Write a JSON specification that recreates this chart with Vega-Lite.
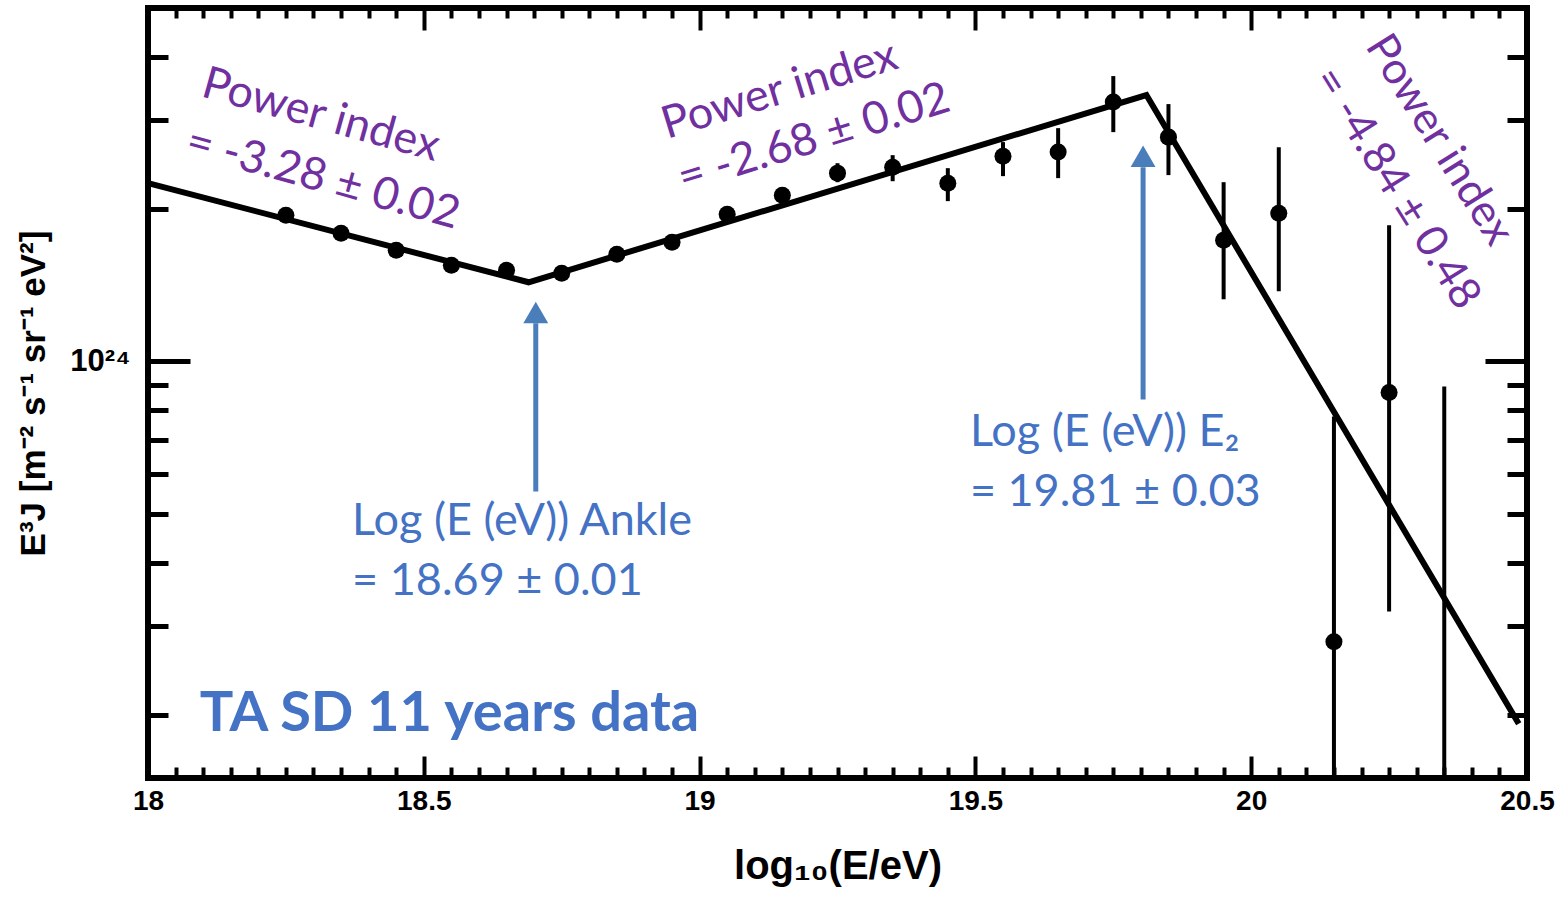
{
  "$schema": "https://vega.github.io/schema/vega-lite/v6.json",
  "width": 1379,
  "height": 770,
  "autosize": {"type": "none"},
  "padding": {"left": 148, "top": 8, "right": 35, "bottom": 124},
  "background": "white",
  "config": {
    "view": {"stroke": "black", "strokeWidth": 6},
    "axis": {"grid": false, "domain": false, "tickColor": "black", "labelColor": "black", "titleColor": "black", "zindex": 1}
  },
  "datasets": {
    "spectrum": [
      {"logE": 18.25, "flux": 1.946e24, "lo": null, "hi": null},
      {"logE": 18.35, "flux": 1.793e24, "lo": null, "hi": null},
      {"logE": 18.45, "flux": 1.659e24, "lo": null, "hi": null},
      {"logE": 18.55, "flux": 1.549e24, "lo": null, "hi": null},
      {"logE": 18.65, "flux": 1.514e24, "lo": null, "hi": null},
      {"logE": 18.75, "flux": 1.494e24, "lo": null, "hi": null},
      {"logE": 18.85, "flux": 1.629e24, "lo": null, "hi": null},
      {"logE": 18.95, "flux": 1.72e24, "lo": null, "hi": null},
      {"logE": 19.05, "flux": 1.955e24, "lo": null, "hi": null},
      {"logE": 19.15, "flux": 2.132e24, "lo": null, "hi": null},
      {"logE": 19.25, "flux": 2.357e24, "lo": 2.262e24, "hi": 2.466e24},
      {"logE": 19.35, "flux": 2.422e24, "lo": 2.272e24, "hi": 2.558e24},
      {"logE": 19.45, "flux": 2.252e24, "lo": 2.075e24, "hi": 2.411e24},
      {"logE": 19.55, "flux": 2.546e24, "lo": 2.325e24, "hi": 2.715e24},
      {"logE": 19.65, "flux": 2.594e24, "lo": 2.304e24, "hi": 2.893e24},
      {"logE": 19.75, "flux": 3.258e24, "lo": 2.841e24, "hi": 3.667e24},
      {"logE": 19.85, "flux": 2.777e24, "lo": 2.336e24, "hi": 3.228e24},
      {"logE": 19.95, "flux": 1.736e24, "lo": 1.327e24, "hi": 2.262e24},
      {"logE": 20.05, "flux": 1.963e24, "lo": 1.376e24, "hi": 2.653e24},
      {"logE": 20.15, "flux": 2.79e23, "lo": 1.0e23, "hi": 7.78e23},
      {"logE": 20.25, "flux": 8.68e23, "lo": 3.2e23, "hi": 1.859e24},
      {"logE": 20.35, "flux": null, "lo": 1.0e23, "hi": 8.92e23}
    ],
    "fit": [
      {"logE": 18.0, "flux": 2.252e24},
      {"logE": 18.69, "flux": 1.434e24},
      {"logE": 19.81, "flux": 3.363e24},
      {"logE": 20.485, "flux": 1.92e23}
    ]
  },
  "resolve": {"axis": {"x": "independent", "y": "independent"}},
  "layer": [
    {
      "data": {"name": "fit"},
      "mark": {"type": "line", "color": "black", "strokeWidth": 6, "strokeJoin": "miter"},
      "encoding": {
        "x": {
          "field": "logE", "type": "quantitative",
          "scale": {"domain": [18, 20.5], "nice": false, "zero": false},
          "axis": {
            "orient": "bottom",
            "values": [18,18.05,18.1,18.15,18.2,18.25,18.3,18.35,18.4,18.45,18.5,18.55,18.6,18.65,18.7,18.75,18.8,18.85,18.9,18.95,19,19.05,19.1,19.15,19.2,19.25,19.3,19.35,19.4,19.45,19.5,19.55,19.6,19.65,19.7,19.75,19.8,19.85,19.9,19.95,20,20.05,20.1,20.15,20.2,20.25,20.3,20.35,20.4,20.45,20.5],
            "format": "~g",
            "labelExpr": "abs(datum.value*2-round(datum.value*2))<0.001 ? datum.label : ''",
            "tickSize": {"condition": {"test": "abs(datum.value*2-round(datum.value*2))<0.001", "value": -22}, "value": -11},
            "tickWidth": 4,
            "labelFont": "Liberation Sans",
            "labelFontWeight": "bold",
            "labelFontSize": 28,
            "labelPadding": 31,
            "labelFlush": false,
            "labelOverlap": false,
            "title": "log₁₀(E/eV)",
            "titleFont": "Liberation Sans",
            "titleFontWeight": "bold",
            "titleFontSize": 40,
            "titlePadding": 20
          }
        },
        "y": {
          "field": "flux", "type": "quantitative",
          "scale": {"type": "log", "domain": [1.5e23, 5e24], "nice": false},
          "axis": {
            "orient": "left",
            "values": [2e23,3e23,4e23,5e23,6e23,7e23,8e23,9e23,1e24,2e24,3e24,4e24],
            "labelExpr": "datum.value == 1e24 ? '10²⁴' : ''",
            "tickSize": {"condition": {"test": "datum.value == 1e24", "value": -42}, "value": -20},
            "tickWidth": 5,
            "labelFont": "Liberation Sans",
            "labelFontWeight": "bold",
            "labelFontSize": 31,
            "labelPadding": 60,
            "labelOverlap": false,
            "labelFlush": false,
            "title": "E³J [m⁻² s⁻¹ sr⁻¹ eV²]",
            "titleFont": "Liberation Sans",
            "titleFontWeight": "bold",
            "titleFontSize": 35,
            "titlePadding": 18
          }
        }
      }
    },
    {
      "data": {"name": "spectrum"},
      "mark": {"type": "rule", "color": "black", "strokeWidth": 4, "clip": true},
      "encoding": {
        "x": {
          "field": "logE", "type": "quantitative",
          "axis": {
            "orient": "top",
            "values": [18,18.05,18.1,18.15,18.2,18.25,18.3,18.35,18.4,18.45,18.5,18.55,18.6,18.65,18.7,18.75,18.8,18.85,18.9,18.95,19,19.05,19.1,19.15,19.2,19.25,19.3,19.35,19.4,19.45,19.5,19.55,19.6,19.65,19.7,19.75,19.8,19.85,19.9,19.95,20,20.05,20.1,20.15,20.2,20.25,20.3,20.35,20.4,20.45,20.5],
            "labels": false,
            "title": null,
            "tickSize": {"condition": {"test": "abs(datum.value*2-round(datum.value*2))<0.001", "value": -22}, "value": -10},
            "tickWidth": 4
          }
        },
        "y": {
          "field": "lo", "type": "quantitative",
          "axis": {
            "orient": "right",
            "values": [2e23,3e23,4e23,5e23,6e23,7e23,8e23,9e23,1e24,2e24,3e24,4e24],
            "labels": false,
            "title": null,
            "tickSize": {"condition": {"test": "datum.value == 1e24", "value": -42}, "value": -20},
            "tickWidth": 5
          }
        },
        "y2": {"field": "hi"}
      }
    },
    {
      "data": {"name": "spectrum"},
      "mark": {"type": "point", "shape": "circle", "filled": true, "color": "black", "size": 290, "opacity": 1},
      "encoding": {
        "x": {"field": "logE", "type": "quantitative", "axis": null},
        "y": {"field": "flux", "type": "quantitative", "axis": null}
      }
    },
    {
      "data": {"values": [{"logE": 18.703, "from": 5.53e23, "to": 1.19e24}, {"logE": 19.804, "from": 8.41e23, "to": 2.42e24}]},
      "mark": {"type": "rule", "color": "#4A7EBB", "strokeWidth": 5},
      "encoding": {
        "x": {"field": "logE", "type": "quantitative", "axis": null},
        "y": {"field": "from", "type": "quantitative", "axis": null},
        "y2": {"field": "to"}
      }
    },
    {
      "data": {"values": [{"logE": 18.703, "tip": 1.25e24}, {"logE": 19.804, "tip": 2.546e24}]},
      "mark": {"type": "point", "shape": "triangle-up", "filled": true, "color": "#4A7EBB", "size": 620, "opacity": 1},
      "encoding": {
        "x": {"field": "logE", "type": "quantitative", "axis": null},
        "y": {"field": "tip", "type": "quantitative", "axis": null}
      }
    },
    {
      "data": {"values": [{"logE": 18.094, "flux": 3.348e24, "label": "Power index\n= -3.28 ± 0.02"}]},
      "mark": {"type": "text", "align": "left", "baseline": "alphabetic", "angle": 15.5, "font": "Lato", "fontSize": 45, "color": "#7030A0", "lineBreak": "\n", "lineHeight": 60},
      "encoding": {
        "x": {"field": "logE", "type": "quantitative", "axis": null},
        "y": {"field": "flux", "type": "quantitative", "axis": null},
        "text": {"field": "label"}
      }
    },
    {
      "data": {"values": [{"logE": 18.941, "flux": 2.752e24, "label": "Power index\n= -2.68 ± 0.02"}]},
      "mark": {"type": "text", "align": "left", "baseline": "alphabetic", "angle": -17, "font": "Lato", "fontSize": 45, "color": "#7030A0", "lineBreak": "\n", "lineHeight": 56},
      "encoding": {
        "x": {"field": "logE", "type": "quantitative", "axis": null},
        "y": {"field": "flux", "type": "quantitative", "axis": null},
        "text": {"field": "label"}
      }
    },
    {
      "data": {"values": [{"logE": 20.206, "flux": 4.206e24, "label": "Power index\n= -4.84 ± 0.48"}]},
      "mark": {"type": "text", "align": "left", "baseline": "alphabetic", "angle": 58, "font": "Lato", "fontSize": 44, "color": "#7030A0", "lineBreak": "\n", "lineHeight": 62},
      "encoding": {
        "x": {"field": "logE", "type": "quantitative", "axis": null},
        "y": {"field": "flux", "type": "quantitative", "axis": null},
        "text": {"field": "label"}
      }
    },
    {
      "data": {"values": [
        {"logE": 18.37, "flux": 4.544e23, "label": "Log (E (eV)) Ankle\n= 18.69 ± 0.01"},
        {"logE": 19.49, "flux": 6.79e23, "label": "Log (E (eV)) E₂\n= 19.81 ± 0.03"}
      ]},
      "mark": {"type": "text", "align": "left", "baseline": "alphabetic", "font": "Lato", "fontSize": 45, "color": "#4472C4", "lineBreak": "\n", "lineHeight": 60},
      "encoding": {
        "x": {"field": "logE", "type": "quantitative", "axis": null},
        "y": {"field": "flux", "type": "quantitative", "axis": null},
        "text": {"field": "label"}
      }
    },
    {
      "data": {"values": [{"logE": 18.094, "flux": 1.86e23, "label": "TA SD 11 years data"}]},
      "mark": {"type": "text", "align": "left", "baseline": "alphabetic", "font": "Lato", "fontWeight": "bold", "fontSize": 56, "color": "#4472C4"},
      "encoding": {
        "x": {"field": "logE", "type": "quantitative", "axis": null},
        "y": {"field": "flux", "type": "quantitative", "axis": null},
        "text": {"field": "label"}
      }
    }
  ]
}
